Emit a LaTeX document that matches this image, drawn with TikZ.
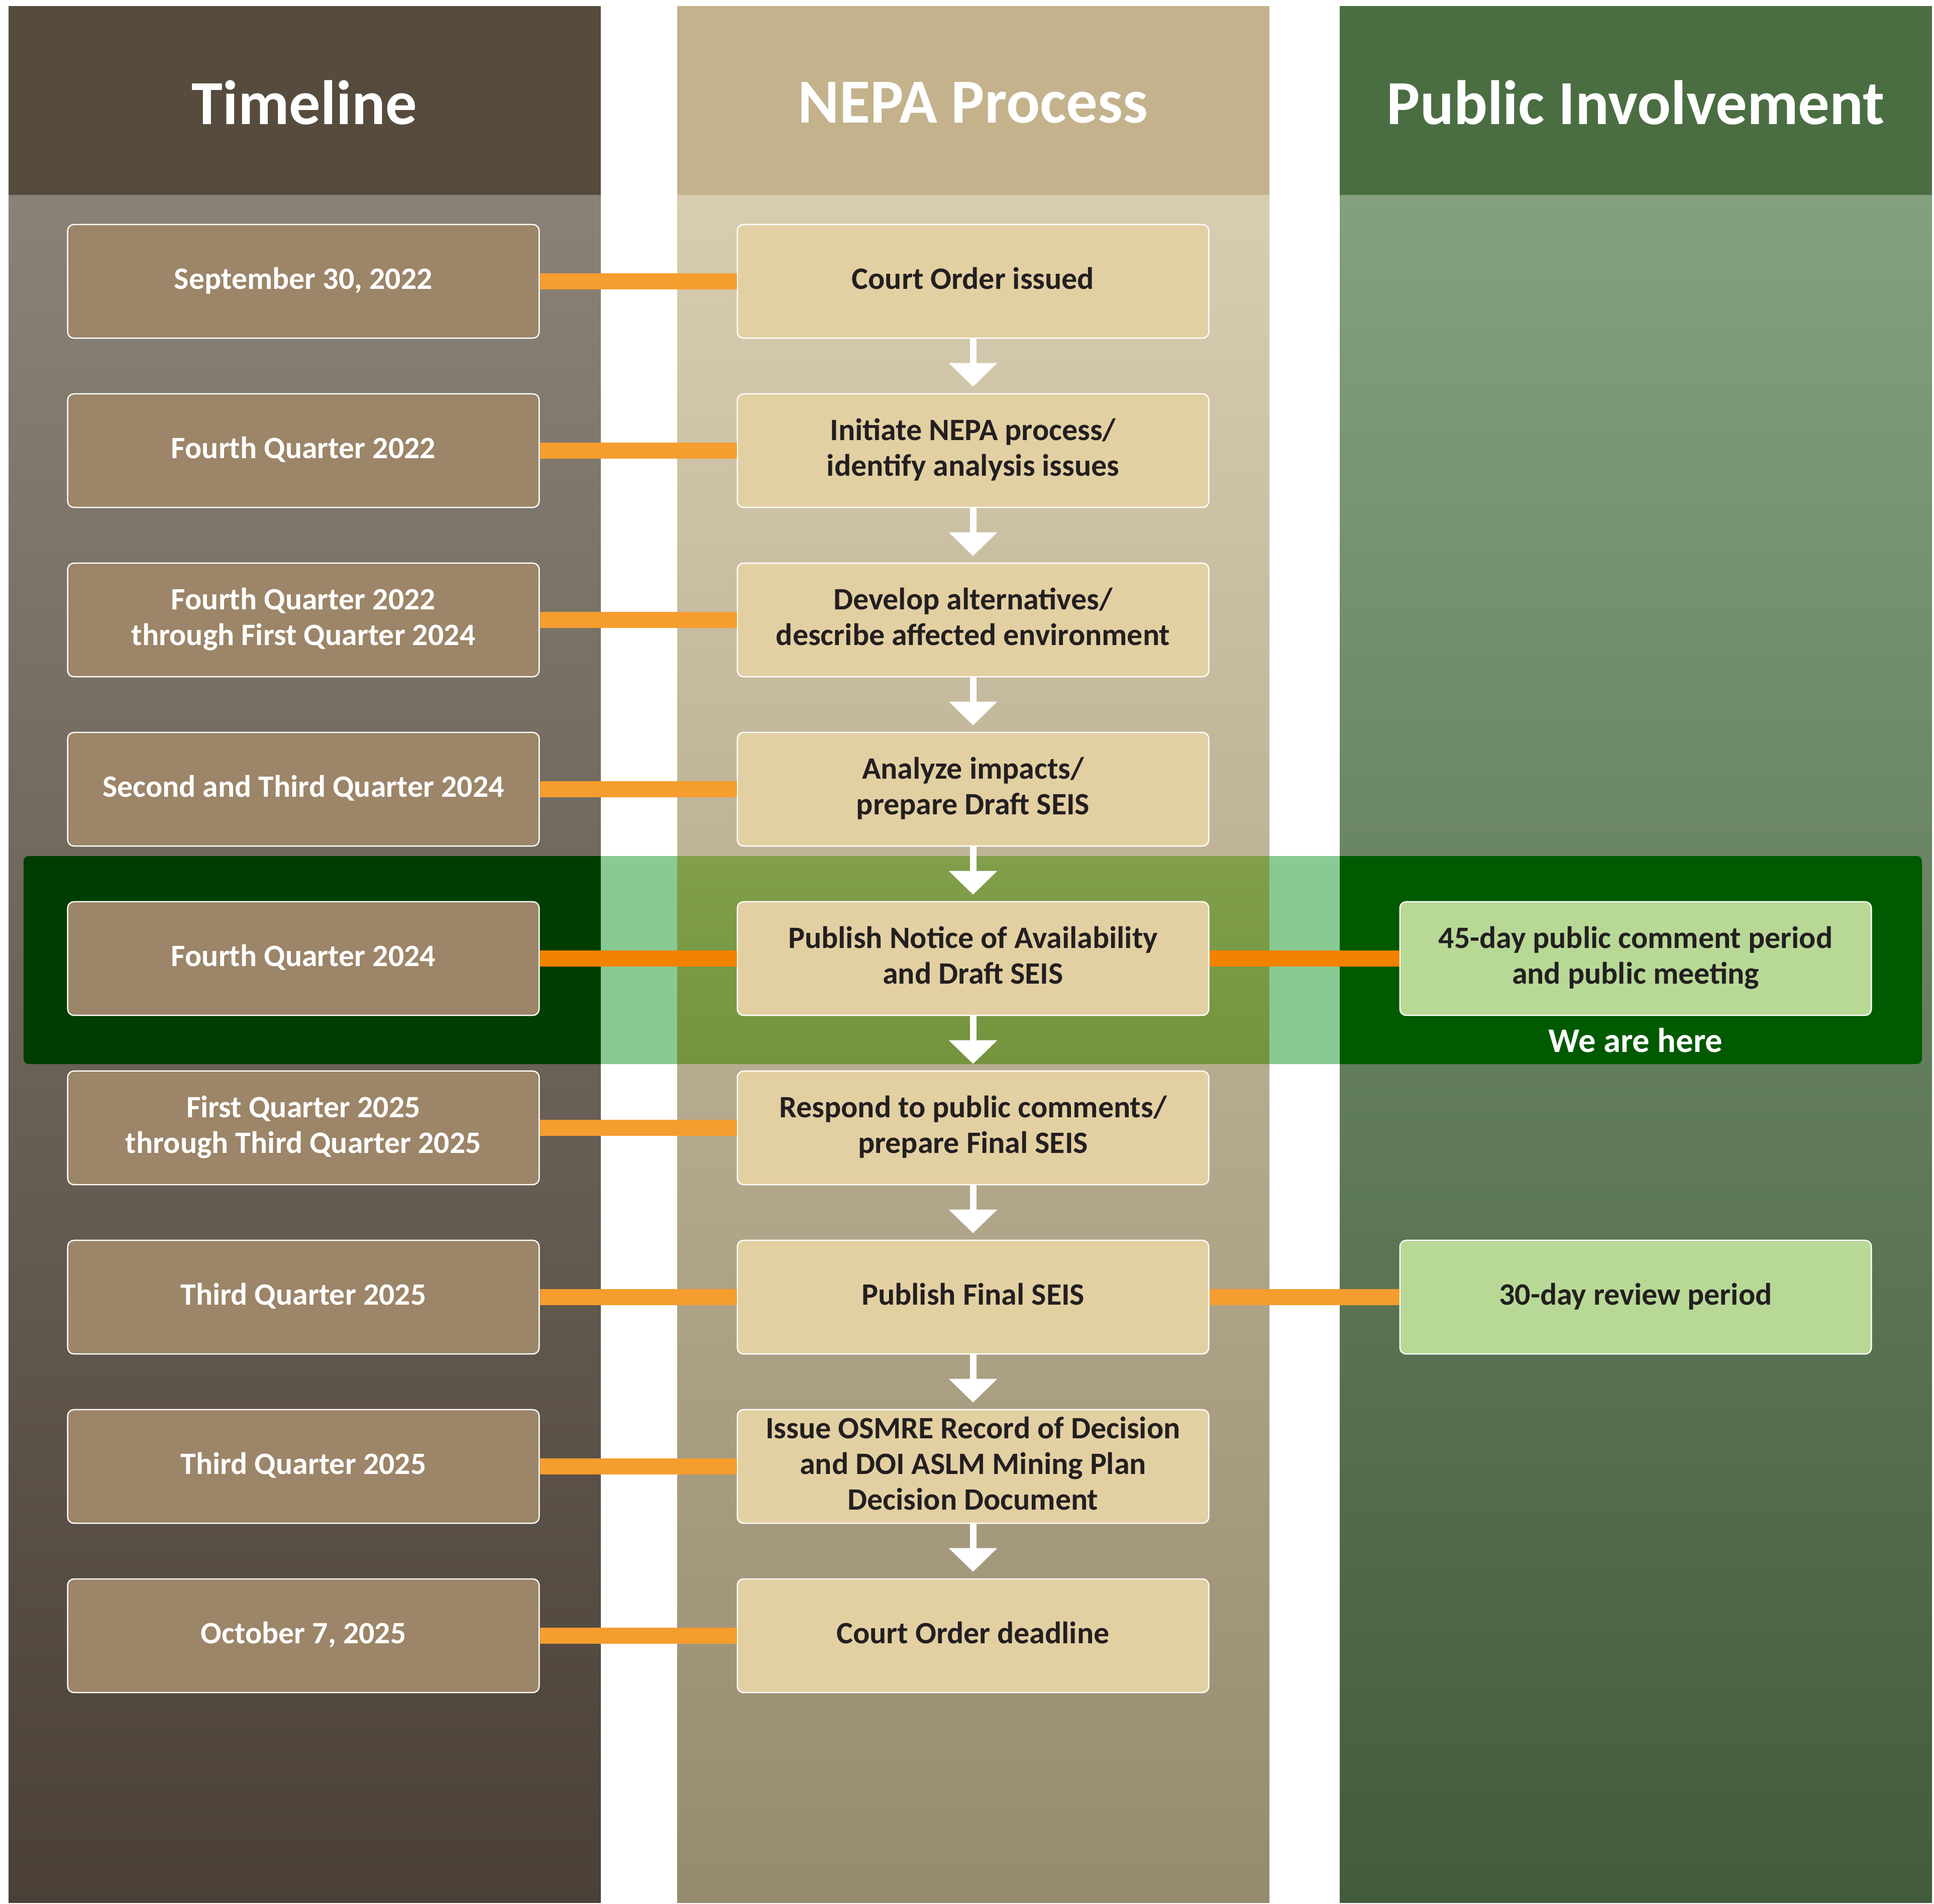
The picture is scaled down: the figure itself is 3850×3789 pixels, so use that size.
\documentclass[tikz,border=0pt]{standalone}
\usepackage{fontspec}
\setmainfont{Carlito}
\usetikzlibrary{arrows.meta}
\definecolor{hdA}{HTML}{564B3D}
\definecolor{bdAt}{HTML}{8A8277}
\definecolor{bdAb}{HTML}{4A4037}
\definecolor{hdB}{HTML}{C4B28C}
\definecolor{bdBt}{HTML}{D8CDB1}
\definecolor{bdBb}{HTML}{978B6F}
\definecolor{hdC}{HTML}{4A6E42}
\definecolor{bdCt}{HTML}{84A07F}
\definecolor{bdCb}{HTML}{425B3B}
\definecolor{boxA}{HTML}{9C8568}
\definecolor{boxB}{HTML}{E3D0A2}
\definecolor{boxC}{HTML}{B8D996}
\definecolor{txtD}{HTML}{231F20}
\definecolor{orgA}{HTML}{F59D2E}
\definecolor{orgB}{HTML}{F28300}
\definecolor{bandA}{HTML}{003D00}
\definecolor{bandG}{HTML}{88CA92}
\definecolor{bandBt}{HTML}{819F4A}
\definecolor{bandBb}{HTML}{74943E}
\definecolor{bandC}{HTML}{005A00}
\begin{document}
\begin{tikzpicture}[x=0.01cm,y=-0.01cm,
  hdr/.style={text=white,font=\fontsize{35.5}{42}\selectfont\bfseries},
  basebox/.style={draw=white,line width=0.7pt,rounded corners=3.5pt,
    minimum width=9.38cm,minimum height=2.26cm,inner sep=0pt,align=center,
    text depth=3.6pt,
    font=\fontsize{17.6}{20.2}\selectfont\bfseries},
  tbox/.style={basebox,fill=boxA,text=white},
  pbox/.style={basebox,fill=boxB,text=txtD},
  ibox/.style={basebox,fill=boxC,text=txtD},
  conn/.style={draw=orgA,line width=9.1pt},
  connhi/.style={draw=orgB,line width=9.1pt},
  arr/.style={draw=white,line width=3.7pt,-{Triangle[width=26.7pt,length=13.4pt]},shorten >=3.7pt}
]
\useasboundingbox (0,0) rectangle (3850,3789);
\fill[white] (0,0) rectangle (3850,3789);
% columns
\fill[hdA] (17,12) rectangle (1196,388);
\shade[top color=bdAt,bottom color=bdAb] (17,388) rectangle (1196,3787);
\fill[hdB] (1348,12) rectangle (2527,388);
\shade[top color=bdBt,bottom color=bdBb] (1348,388) rectangle (2527,3787);
\fill[hdC] (2667,12) rectangle (3846,388);
\shade[top color=bdCt,bottom color=bdCb] (2667,388) rectangle (3846,3787);
% highlight band
\begin{scope}
\clip[rounded corners=2.8pt] (47,1704) rectangle (3826,2118);
\fill[bandA] (0,1700) rectangle (1196,2120);
\fill[bandG] (1196,1700) rectangle (1348,2120);
\shade[top color=bandBt,bottom color=bandBb] (1348,1704) rectangle (2527,2118);
\fill[bandG] (2527,1700) rectangle (2667,2120);
\fill[bandC] (2667,1700) rectangle (3850,2120);
\end{scope}
% headers
\node[hdr] (hT) at (606,204) {Timeline};
\node[hdr] (hN) at (1937,204) {NEPA Process};
\node[hdr] (hP) at (3256,204) {Public Involvement};
% timeline boxes
\node[tbox] (t1) at (604,560) {September 30, 2022};
\node[tbox] (t2) at (604,897) {Fourth Quarter 2022};
\node[tbox] (t3) at (604,1234) {Fourth Quarter 2022\\through First Quarter 2024};
\node[tbox] (t4) at (604,1571) {Second and Third Quarter 2024};
\node[tbox] (t5) at (604,1908) {Fourth Quarter 2024};
\node[tbox] (t6) at (604,2245) {First Quarter 2025\\through Third Quarter 2025};
\node[tbox] (t7) at (604,2582) {Third Quarter 2025};
\node[tbox] (t8) at (604,2919) {Third Quarter 2025};
\node[tbox] (t9) at (604,3256) {October 7, 2025};
% process boxes
\node[pbox] (p1) at (1937,560) {Court Order issued};
\node[pbox] (p2) at (1937,897) {Initiate NEPA process/\\identify analysis issues};
\node[pbox] (p3) at (1937,1234) {Develop alternatives/\\describe affected environment};
\node[pbox] (p4) at (1937,1571) {Analyze impacts/\\prepare Draft SEIS};
\node[pbox] (p5) at (1937,1908) {Publish Notice of Availability\\and Draft SEIS};
\node[pbox] (p6) at (1937,2245) {Respond to public comments/\\prepare Final SEIS};
\node[pbox] (p7) at (1937,2582) {Publish Final SEIS};
\node[pbox] (p8) at (1937,2919) {Issue OSMRE Record of Decision\\and DOI ASLM Mining Plan\\Decision Document};
\node[pbox] (p9) at (1937,3256) {Court Order deadline};
% public involvement boxes
\node[ibox] (i5) at (3256,1908) {45-day public comment period\\and public meeting};
\node[ibox] (i7) at (3256,2582) {30-day review period};
\node[text=white,font=\fontsize{19.5}{23}\selectfont\bfseries] (here) at (3256,2071) {We are here};
% connectors
\foreach \k in {1,2,3,4,6,7,8,9} {\draw[conn] (t\k.east) -- (p\k.west);}
\draw[connhi] (t5.east) -- (p5.west);
\draw[connhi] (p5.east) -- (i5.west);
\draw[conn] (p7.east) -- (i7.west);
% arrows
\foreach \a/\b in {1/2,2/3,3/4,4/5,5/6,6/7,7/8,8/9} {\draw[arr] (p\a.south) -- (p\b.north);}
\end{tikzpicture}
\end{document}
